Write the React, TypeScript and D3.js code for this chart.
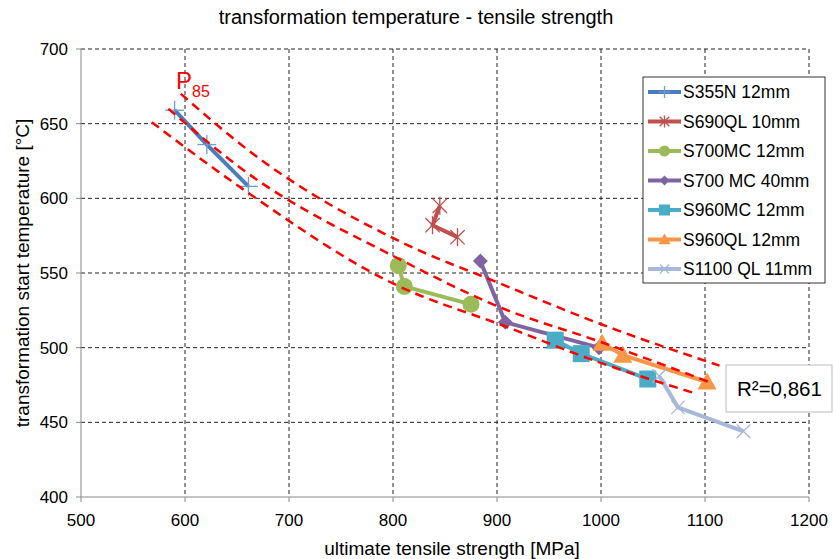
import React from "react";
import * as d3 from "d3";

const W = 833;
const H = 559;

const xTicks = [500, 600, 700, 800, 900, 1000, 1100, 1200];
const yTicks = [400, 450, 500, 550, 600, 650, 700];

const seriesNames = [
  "S355N 12mm",
  "S690QL 10mm",
  "S700MC 12mm",
  "S700 MC 40mm",
  "S960MC 12mm",
  "S960QL 12mm",
  "S1100 QL 11mm",
];
const seriesColors = ["#4A7EBB", "#C0504D", "#9BBB59", "#8064A2", "#4BACC6", "#F79646", "#A7B8DA"];
const seriesMarkers = ["plus", "star", "circle", "diamond", "square", "triangle", "cross"];

const s355n: [number, number][] = [[590, 659], [621, 636], [661, 608]];
const s690ql: [number, number][] = [[845, 595], [838, 582], [862, 574]];
const s700mc12: [number, number][] = [[805, 555], [811, 541], [875, 529]];
const s700mc40: [number, number][] = [[884, 558], [908, 517], [998, 500]];
const s960mc: [number, number][] = [[956, 505], [981, 496], [1045, 479]];
const s960ql: [number, number][] = [[1001, 503], [1021, 495], [1102, 477]];
const s1100ql: [number, number][] = [[1056, 481], [1074, 460], [1137, 444]];
const seriesData = [s355n, s690ql, s700mc12, s700mc40, s960mc, s960ql, s1100ql];

const bandUpper: [number, number][] = [[596, 670], [665, 630], [807, 571], [903, 543], [999, 516], [1114, 488]];
const bandMiddle: [number, number][] = [[584, 660], [656, 619], [807, 559], [903, 527], [999, 504], [1104, 477]];
const bandLower: [number, number][] = [[568, 651], [656, 606], [800, 543], [909, 514], [999, 490], [1088, 470]];

const rSquaredLabel = "R²=0,861";

const left = 81, right = 809, top = 49, bottom = 497;

const font = "Liberation Sans, Arial, sans-serif";

function Marker({ type, x, y, color, s }: { type: string; x: number; y: number; color: string; s: number }) {
  const h = s / 2;
  switch (type) {
    case "plus":
      return (
        <g stroke={color} strokeWidth={1.3}>
          <line x1={x - h} y1={y} x2={x + h} y2={y} />
          <line x1={x} y1={y - h} x2={x} y2={y + h} />
        </g>
      );
    case "star":
      return (
        <g stroke={color} strokeWidth={1.3}>
          <line x1={x - h * 0.8} y1={y - h * 0.8} x2={x + h * 0.8} y2={y + h * 0.8} />
          <line x1={x - h * 0.8} y1={y + h * 0.8} x2={x + h * 0.8} y2={y - h * 0.8} />
          <line x1={x} y1={y - h} x2={x} y2={y + h} />
        </g>
      );
    case "cross":
      return (
        <g stroke={color} strokeWidth={1.3}>
          <line x1={x - h * 0.75} y1={y - h * 0.75} x2={x + h * 0.75} y2={y + h * 0.75} />
          <line x1={x - h * 0.75} y1={y + h * 0.75} x2={x + h * 0.75} y2={y - h * 0.75} />
        </g>
      );
    case "circle":
      return <circle cx={x} cy={y} r={h} fill={color} />;
    case "diamond":
      return <path d={`M${x},${y - h}L${x + h},${y}L${x},${y + h}L${x - h},${y}Z`} fill={color} />;
    case "square":
      return <rect x={x - h} y={y - h} width={s} height={s} fill={color} />;
    case "triangle":
      return <path d={`M${x},${y - h}L${x + h},${y + h * 0.8}L${x - h},${y + h * 0.8}Z`} fill={color} />;
    default:
      return null;
  }
}

const plotSizes = [19, 18, 17, 15, 17, 19, 18];
const legendSizes = [12, 12, 11, 10, 11, 12, 12];

export default function App() {
  const x = d3.scaleLinear().domain([500, 1200]).range([left, right]);
  const y = d3.scaleLinear().domain([400, 700]).range([bottom, top]);

  const line = d3.line<[number, number]>().x((d) => x(d[0])).y((d) => y(d[1]));
  const curve = d3
    .line<[number, number]>()
    .x((d) => x(d[0]))
    .y((d) => y(d[1]))
    .curve(d3.curveMonotoneX);

  const legendX = 643, legendY = 77, legendW = 182, legendH = 206;

  return (
    <svg width={W} height={H} style={{ position: "absolute", left: 0, top: 0, fontFamily: font }}>
      <rect width={W} height={H} fill="#fff" />
      <text x={416} y={24} textAnchor="middle" fontSize={20} fill="#000">
        transformation temperature - tensile strength
      </text>

      {/* gridlines */}
      {yTicks.filter((t) => t !== 400).map((t) => (
        <line key={"gy" + t} x1={left} x2={right} y1={y(t)} y2={y(t)} stroke="#222" strokeWidth={1} strokeDasharray="4,3" />
      ))}
      {xTicks.filter((t) => t !== 500).map((t) => (
        <line key={"gx" + t} x1={x(t)} x2={x(t)} y1={top} y2={bottom} stroke="#222" strokeWidth={1} strokeDasharray="4,3" />
      ))}
      {/* axes */}
      <line x1={left} x2={left} y1={top} y2={bottom} stroke="#888" strokeWidth={1} />
      <line x1={left} x2={right} y1={bottom} y2={bottom} stroke="#888" strokeWidth={1} />
      {yTicks.map((t) => (
        <g key={"yt" + t}>
          <line x1={left - 5} x2={left} y1={y(t)} y2={y(t)} stroke="#888" />
          <text x={left - 13} y={y(t) + 6} textAnchor="end" fontSize={17} fill="#000">
            {t}
          </text>
        </g>
      ))}
      {xTicks.map((t) => (
        <g key={"xt" + t}>
          <line x1={x(t)} x2={x(t)} y1={bottom} y2={bottom + 5} stroke="#888" />
          <text x={x(t)} y={bottom + 29} textAnchor="middle" fontSize={17} fill="#000">
            {t}
          </text>
        </g>
      ))}
      <text x={452} y={555} textAnchor="middle" fontSize={19} fill="#000">
        ultimate tensile strength [MPa]
      </text>
      <text transform={`translate(29,${(top + bottom) / 2}) rotate(-90)`} textAnchor="middle" fontSize={19} fill="#000">
        transformation start temperature [°C]
      </text>

      {/* series */}
      {seriesData.map((data, i) => (
        <g key={"s" + i}>
          <path d={line(data) || ""} fill="none" stroke={seriesColors[i]} strokeWidth={4} strokeLinejoin="round" />
          {data.map((d, j) => (
            <Marker key={j} type={seriesMarkers[i]} x={x(d[0])} y={y(d[1])} color={i === 0 ? "#6F9BD3" : seriesColors[i]} s={plotSizes[i]} />
          ))}
        </g>
      ))}

      {/* P85 band */}
      {[bandUpper, bandMiddle, bandLower].map((b, i) => (
        <path key={"b" + i} d={curve(b) || ""} fill="none" stroke="#FF0000" strokeWidth={2.5} strokeDasharray="9,6" />
      ))}
      <text x={176} y={89} fontSize={24} fill="#FF0000">P</text>
      <text x={192} y={97} fontSize={16} fill="#FF0000">85</text>

      {/* legend */}
      <rect x={legendX} y={legendY} width={legendW} height={legendH} fill="#fff" stroke="#333" strokeWidth={1} />
      {seriesNames.map((n, i) => {
        const ly = 92 + i * 29.5;
        return (
          <g key={"l" + i}>
            <line x1={648} x2={681} y1={ly} y2={ly} stroke={seriesColors[i]} strokeWidth={4} />
            <Marker type={seriesMarkers[i]} x={664.5} y={ly} color={i === 0 ? "#6F9BD3" : seriesColors[i]} s={legendSizes[i]} />
            <text x={683} y={ly + 6} fontSize={17.5} fill="#000">
              {n}
            </text>
          </g>
        );
      })}

      {/* R2 box */}
      <rect x={726} y={365} width={106} height={47} fill="#fff" stroke="#bbb" strokeWidth={1} />
      <text x={737} y={396} fontSize={20.5} fill="#000">
        {rSquaredLabel}
      </text>
    </svg>
  );
}
